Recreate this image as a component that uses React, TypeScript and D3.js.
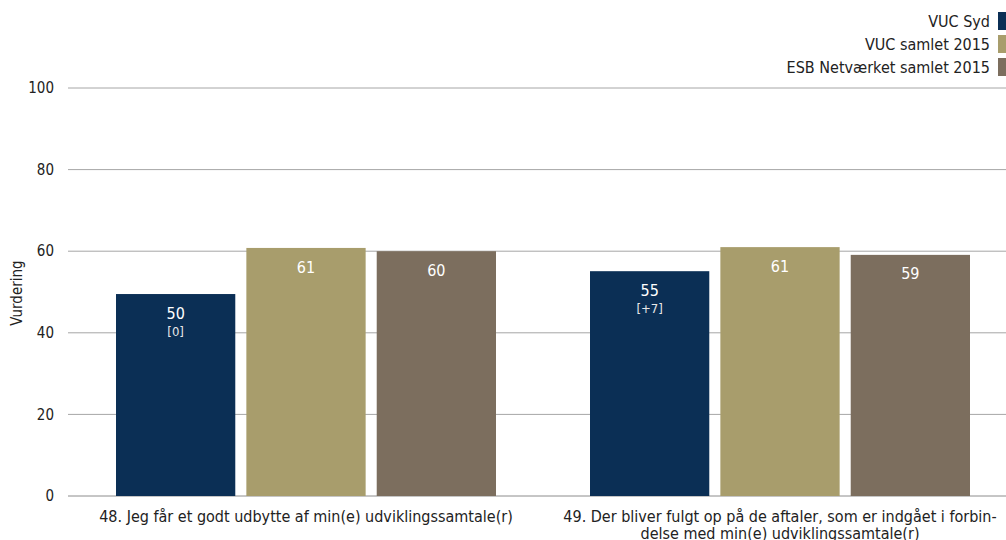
import React from "react";
import * as d3 from "d3";

const categories = [
  ["48. Jeg får et godt udbytte af min(e) udviklingssamtale(r)"],
  ["49. Der bliver fulgt op på de aftaler, som er indgået i forbin-", "delse med min(e) udviklingssamtale(r)"],
];
const seriesNames = ["VUC Syd", "VUC samlet 2015", "ESB Netværket samlet 2015"];
const seriesColors = ["#0b2f55", "#a89d6c", "#7c6e5e"];
const vucSyd = [49.5, 55.1];
const vucSamlet = [60.8, 61.0];
const esbSamlet = [60.0, 59.1];
const valueLabels = [["50", "61", "60"], ["55", "61", "59"]];
const changeLabels = ["[0]", "[+7]"];
const yTicks = [0, 20, 40, 60, 80, 100];

const W = 1006, H = 540;
const FONT = "'DejaVu Sans Condensed', 'DejaVu Sans', sans-serif";

export default function App() {
  const series = [vucSyd, vucSamlet, esbSamlet];
  const y = d3.scaleLinear().domain([0, 100]).range([496, 88]);
  const groupW = 380;
  const bandW = 474;
  const gx = d3.scaleBand<number>().domain([0, 1]).range([69, 69 + bandW * 2]);
  const inner = d3.scaleBand<number>().domain([0, 1, 2]).range([0, groupW]).paddingInner(0.085);
  const off = (bandW - groupW) / 2;

  return (
    <svg width={W} height={H} style={{ position: "absolute", left: 0, top: 0, fontFamily: FONT }}>
      <rect width={W} height={H} fill="#fff" />
      {yTicks.map((t) => (
        <g key={t}>
          <line x1={68} x2={W} y1={y(t)} y2={y(t)} stroke={t === 0 ? "#8c8c8c" : "#a6a6a6"} strokeWidth={1} />
          <text x={54} y={y(t)} dy="0.35em" textAnchor="end" fontSize={15} fill="#222">{t}</text>
        </g>
      ))}
      <text transform={`translate(17,${293}) rotate(-90)`} textAnchor="middle" dy="0.35em" fontSize={15} fill="#222">Vurdering</text>
      {categories.map((cat, gi) => {
        const gxs = (gx(gi) as number) + off;
        return (
          <g key={gi}>
            {series.map((s, si) => {
              const bx = gxs + (inner(si) as number);
              const bw = inner.bandwidth();
              const top = y(s[gi]);
              return (
                <g key={si}>
                  <rect x={bx} y={top} width={bw} height={y(0) - top} fill={seriesColors[si]} />
                  <text x={bx + bw / 2} y={top + 19} dy="0.35em" textAnchor="middle" fontSize={16} fill="#fff">{valueLabels[gi][si]}</text>
                  {si === 0 && (
                    <text x={bx + bw / 2} y={top + 37} dy="0.35em" textAnchor="middle" fontSize={13} fill="#e8e8e8">{changeLabels[gi]}</text>
                  )}
                </g>
              );
            })}
            {cat.map((line, li) => (
              <text key={li} x={gxs + groupW / 2} y={516 + li * 17} dy="0.35em" textAnchor="middle" fontSize={16} fill="#222">{line}</text>
            ))}
          </g>
        );
      })}
      {seriesNames.map((n, i) => (
        <g key={n}>
          <text x={990} y={21 + i * 23} dy="0.35em" textAnchor="end" fontSize={16} fill="#222">{n}</text>
          <rect x={998} y={12 + i * 23} width={10} height={18} fill={seriesColors[i]} />
        </g>
      ))}
    </svg>
  );
}
